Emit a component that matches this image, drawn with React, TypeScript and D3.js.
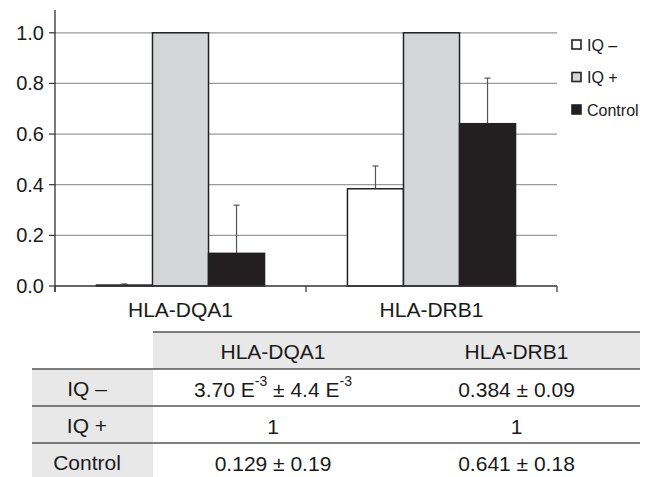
import React from 'react';
import * as d3 from 'd3';

// chart data
const categories = ['HLA-DQA1', 'HLA-DRB1'];
const seriesNames = ['IQ –', 'IQ +', 'Control'];
const seriesColors = ['#ffffff', '#d5d6d8', '#231f20'];
const iqMinus = [0.0037, 0.384];
const iqPlus = [1, 1];
const control = [0.129, 0.641];
const iqMinusErr = [0.0044, 0.09];
const iqPlusErr = [0, 0];
const controlErr = [0.19, 0.18];
const yTicks = [0, 0.2, 0.4, 0.6, 0.8, 1.0];

// table below the chart
const tableHeader = ['HLA-DQA1', 'HLA-DRB1'];
const rowLabels = ['IQ –', 'IQ +', 'Control'];
const cellText = [
  [['3.70 E', '-3', ' ± 4.4 E', '-3'], ['0.384 ± 0.09']],
  [['1'], ['1']],
  [['0.129 ± 0.19'], ['0.641 ± 0.18']],
];

const W = 646;
const H = 477;
const font = '"Liberation Sans", Arial, Helvetica, sans-serif';

const App = () => {
  const values = [iqMinus, iqPlus, control];
  const errors = [iqMinusErr, iqPlusErr, controlErr];

  // scales
  const x0 = d3.scaleBand().domain(categories).range([55, 557]).padding(0);
  const x1 = d3
    .scaleBand()
    .domain(seriesNames)
    .range([0, x0.bandwidth()])
    .paddingInner(0)
    .paddingOuter(0.74);
  const y = d3.scaleLinear().domain([0, 1.09]).range([286, 10]);

  const left = x0.range()[0];
  const right = x0.range()[1];

  // table geometry
  const tCols = [32, 153, 393, 640];
  const tTop = 332;
  const rowH = 37;

  return (
    <svg
      width={W}
      height={H}
      style={{ position: 'absolute', left: 0, top: 0, background: '#fff' }}
      fontFamily={font}
    >
      {/* gridlines */}
      {yTicks.slice(1).map((t) => (
        <line key={t} x1={left} x2={right} y1={y(t)} y2={y(t)} stroke="#9a9a9a" strokeWidth={1.2} />
      ))}

      {/* y axis */}
      <line x1={left} x2={left} y1={y(1.09)} y2={y(0) + 6} stroke="#333" strokeWidth={1.3} />
      {yTicks.map((t) => (
        <g key={t}>
          <line x1={left - 6} x2={left} y1={y(t)} y2={y(t)} stroke="#333" strokeWidth={1.2} />
          <text x={left - 11} y={y(t)} textAnchor="end" dominantBaseline="central" fontSize={20} fill="#1a1a1a">
            {t.toFixed(1)}
          </text>
        </g>
      ))}

      {/* bars */}
      {categories.map((c, ci) => (
        <g key={c} transform={`translate(${x0(c)},0)`}>
          {seriesNames.map((s, si) => {
            const v = values[si][ci];
            const e = errors[si][ci];
            const bx = x1(s) as number;
            const bw = x1.bandwidth();
            return (
              <g key={s}>
                {e > 0 && (
                  <g stroke="#555" strokeWidth={1.2}>
                    <line x1={bx + bw / 2} x2={bx + bw / 2} y1={y(v)} y2={y(v + e)} />
                    <line x1={bx + bw / 2 - 3} x2={bx + bw / 2 + 3} y1={y(v + e)} y2={y(v + e)} />
                  </g>
                )}
                <rect
                  x={bx}
                  y={y(v)}
                  width={bw}
                  height={y(0) - y(v)}
                  fill={seriesColors[si]}
                  stroke="#222"
                  strokeWidth={1.5}
                />
              </g>
            );
          })}
        </g>
      ))}

      {/* x axis */}
      <line x1={left} x2={right} y1={y(0)} y2={y(0)} stroke="#333" strokeWidth={1.3} />
      {[left, ...categories.map((c) => (x0(c) as number) + x0.bandwidth())].map((tx) => (
        <line key={tx} x1={tx} x2={tx} y1={y(0)} y2={y(0) + 6} stroke="#333" strokeWidth={1.2} />
      ))}
      {categories.map((c) => (
        <text
          key={c}
          x={(x0(c) as number) + x0.bandwidth() / 2}
          y={309}
          textAnchor="middle"
          dominantBaseline="central"
          fontSize={21}
          fill="#1a1a1a"
        >
          {c}
        </text>
      ))}

      {/* legend */}
      {seriesNames.map((s, i) => {
        const ly = 45 + i * 32.5;
        return (
          <g key={s}>
            <rect x={572} y={ly - 5} width={9} height={9} fill={seriesColors[i]} stroke="#222" strokeWidth={1.6} />
            <text x={587} y={ly} dominantBaseline="central" fontSize={16} fill="#1a1a1a">
              {s}
            </text>
          </g>
        );
      })}

      {/* table */}
      <rect x={tCols[1]} y={tTop} width={tCols[3] - tCols[1]} height={rowH} fill="#e8e8e9" />
      {rowLabels.map((r, ri) => (
        <rect
          key={r}
          x={tCols[0]}
          y={tTop + rowH * (ri + 1)}
          width={tCols[1] - tCols[0]}
          height={ri === rowLabels.length - 1 ? H - (tTop + rowH * (ri + 1)) : rowH}
          fill="#e8e8e9"
        />
      ))}
      <line x1={tCols[1]} x2={tCols[3]} y1={tTop} y2={tTop} stroke="#555" strokeWidth={1.6} />
      {rowLabels.map((r, ri) => (
        <line
          key={r}
          x1={tCols[0]}
          x2={tCols[3]}
          y1={tTop + rowH * (ri + 1)}
          y2={tTop + rowH * (ri + 1)}
          stroke="#555"
          strokeWidth={1.6}
        />
      ))}
      {tableHeader.map((h, hi) => (
        <text
          key={h}
          x={(tCols[hi + 1] + tCols[hi + 2]) / 2}
          y={tTop + rowH / 2 + 1}
          textAnchor="middle"
          dominantBaseline="central"
          fontSize={21}
          fill="#1a1a1a"
        >
          {h}
        </text>
      ))}
      {rowLabels.map((r, ri) => {
        const cy = tTop + rowH * (ri + 1) + rowH / 2 + 1;
        return (
          <g key={r}>
            <text x={87} y={cy} textAnchor="middle" dominantBaseline="central" fontSize={21} fill="#1a1a1a">
              {r}
            </text>
            {cellText[ri].map((parts, ci) => (
              <text
                key={ci}
                x={(tCols[ci + 1] + tCols[ci + 2]) / 2}
                y={cy}
                textAnchor="middle"
                dominantBaseline="central"
                fontSize={21}
                fill="#1a1a1a"
              >
                {parts.map((p, pi) =>
                  pi % 2 === 1 ? (
                    <tspan key={pi} fontSize={14} dy={-8}>
                      {p}
                    </tspan>
                  ) : (
                    <tspan key={pi} dy={pi > 0 ? 8 : 0}>
                      {p}
                    </tspan>
                  )
                )}
              </text>
            ))}
          </g>
        );
      })}
    </svg>
  );
};

export default App;
